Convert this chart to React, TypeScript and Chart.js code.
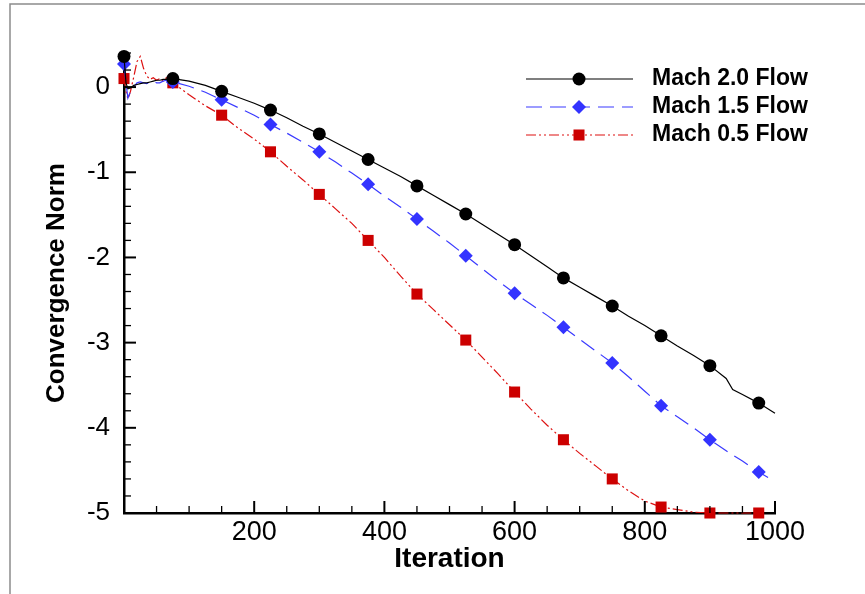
import { useEffect, useRef } from 'react';
import { Chart, registerables } from 'chart.js';

Chart.register(...registerables);

// ---------- data ----------
const iterations = [
  0, 3, 6, 10, 15, 20, 25, 30, 35, 40, 45, 50, 55, 60, 65, 70, 75,
  100, 125, 150, 175, 200, 225, 250, 275, 300, 325, 350, 375, 400, 425, 450,
  475, 500, 525, 550, 575, 600, 625, 650, 675, 700, 725, 750, 775, 800, 825,
  850, 875, 900, 925, 935, 950, 975, 1000,
];

const mach20 = [
  0.36, 0.05, -0.02, -0.01, 0.02, 0.03, 0.04, 0.05, 0.05, 0.06, 0.07, 0.08, 0.08, 0.09, 0.09, 0.1, 0.1,
  0.07, 0.02, -0.05, -0.12, -0.19, -0.27, -0.36, -0.46, -0.55, -0.65, -0.75, -0.85, -0.95, -1.05, -1.16,
  -1.27, -1.38, -1.49, -1.61, -1.73, -1.85, -1.98, -2.11, -2.24, -2.35, -2.46, -2.57, -2.69, -2.8, -2.92,
  -3.04, -3.15, -3.27, -3.42, -3.55, -3.61, -3.71, -3.83,
];

const mach15 = [
  0.27, 0.05, -0.13, -0.05, 0.0, 0.05, 0.06, 0.05, 0.04, 0.06, 0.07, 0.05, 0.05, 0.07, 0.08, 0.07, 0.06,
  0.01, -0.06, -0.15, -0.24, -0.33, -0.44, -0.54, -0.65, -0.76, -0.88, -1.01, -1.14, -1.28, -1.41, -1.55,
  -1.69, -1.83, -1.98, -2.13, -2.28, -2.42, -2.55, -2.68, -2.82, -2.96, -3.1, -3.24, -3.4, -3.57, -3.74,
  -3.87, -4.0, -4.14, -4.27, -4.32, -4.39, -4.52, -4.63,
];

const mach05 = [
  0.1, -0.05, -0.14, -0.05, 0.12, 0.3, 0.36, 0.22, 0.13, 0.09, 0.11, 0.08, 0.1, 0.07, 0.11, 0.06, 0.05,
  -0.09, -0.22, -0.33, -0.48, -0.61, -0.76, -0.93, -1.09, -1.26, -1.43, -1.6, -1.8, -2.0, -2.22, -2.43,
  -2.61, -2.79, -2.97, -3.17, -3.37, -3.58, -3.78, -3.97, -4.14, -4.3, -4.45, -4.6, -4.74, -4.86, -4.93,
  -4.96, -4.99, -5.0, -5.0, -5.0, -5.0, -5.0, null,
];

const markerIterations = [0, 75, 150, 225, 300, 375, 450, 525, 600, 675, 750, 825, 900, 975];

const seriesLabels = ['Mach 2.0 Flow', 'Mach 1.5 Flow', 'Mach 0.5 Flow'];
const xTickLabels = [200, 400, 600, 800, 1000];
const yTickLabels = [0, -1, -2, -3, -4, -5];

// ---------- helpers ----------
const FONT = '"Liberation Sans", Arial, Helvetica, sans-serif';

function near(a: number, b: number) {
  return Math.abs(a - b) < 1e-6;
}

function drawMarker(ctx: CanvasRenderingContext2D, style: string, x: number, y: number, r: number, color: string) {
  ctx.save();
  ctx.fillStyle = color;
  ctx.beginPath();
  if (style === 'circle') {
    ctx.arc(x, y, r, 0, Math.PI * 2);
  } else if (style === 'rectRot') {
    ctx.moveTo(x, y - r);
    ctx.lineTo(x + r, y);
    ctx.lineTo(x, y + r);
    ctx.lineTo(x - r, y);
    ctx.closePath();
  } else {
    const h = r * Math.SQRT1_2;
    ctx.rect(x - h, y - h, 2 * h, 2 * h);
  }
  ctx.fill();
  ctx.restore();
}

const framePlugin = {
  id: 'frame',
  beforeDraw(chart: any) {
    const ctx = chart.ctx as CanvasRenderingContext2D;
    ctx.save();
    ctx.strokeStyle = '#8c8c8c';
    ctx.lineWidth = 1.5;
    ctx.beginPath();
    ctx.moveTo(10, chart.height);
    ctx.lineTo(10, 4);
    ctx.lineTo(chart.width, 4);
    ctx.stroke();
    ctx.restore();
  },
};

const tickPlugin = {
  id: 'innerTicks',
  afterDraw(chart: any) {
    const ctx = chart.ctx as CanvasRenderingContext2D;
    const { left, bottom } = chart.chartArea;
    const xs = chart.scales.x;
    const ys = chart.scales.y;
    ctx.save();
    ctx.strokeStyle = '#000';
    xs.ticks.forEach((t: any) => {
      const px = xs.getPixelForValue(t.value);
      const major = near(t.value / 200, Math.round(t.value / 200));
      ctx.lineWidth = major ? 2 : 1.3;
      ctx.beginPath();
      ctx.moveTo(px, bottom);
      ctx.lineTo(px, bottom - (major ? 12 : 7));
      ctx.stroke();
    });
    ys.ticks.forEach((t: any) => {
      const py = ys.getPixelForValue(t.value);
      const major = near(t.value, Math.round(t.value));
      ctx.lineWidth = major ? 2 : 1.3;
      ctx.beginPath();
      ctx.moveTo(left, py);
      ctx.lineTo(left + (major ? 12 : 7), py);
      ctx.stroke();
    });
    ctx.restore();
  },
};

const legendPlugin = {
  id: 'lineLegend',
  afterDraw(chart: any) {
    const ctx = chart.ctx as CanvasRenderingContext2D;
    const rows = [79, 107, 135];
    chart.data.datasets.forEach((ds: any, i: number) => {
      const y = rows[i];
      ctx.save();
      ctx.strokeStyle = ds.borderColor;
      ctx.lineWidth = ds.borderWidth;
      ctx.setLineDash(ds.borderDash || []);
      ctx.beginPath();
      ctx.moveTo(526, y);
      ctx.lineTo(633, y);
      ctx.stroke();
      ctx.setLineDash([]);
      drawMarker(ctx, ds.pointStyle, 579, y, ds.markerSize, ds.pointBackgroundColor);
      ctx.fillStyle = '#000';
      ctx.font = `bold 23px ${FONT}`;
      ctx.textBaseline = 'middle';
      ctx.textAlign = 'left';
      ctx.fillText(ds.label, 652, y);
      ctx.restore();
    });
  },
};

function makeSeries(values: (number | null)[]) {
  return iterations.map((x, i) => ({ x, y: values[i] }));
}

function markerRadius(size: number) {
  return (c: any) => {
    const p = c.raw;
    if (!p || p.y === null) return 0;
    return markerIterations.includes(p.x) ? size : 0;
  };
}

export default function App() {
  const ref = useRef<HTMLCanvasElement | null>(null);

  useEffect(() => {
    if (!ref.current) return;
    const specs = [
      { label: seriesLabels[0], values: mach20, color: '#000000', marker: '#000000', style: 'circle', size: 6.5, dash: [] as number[] },
      { label: seriesLabels[1], values: mach15, color: '#3a3aff', marker: '#3333ff', style: 'rectRot', size: 7, dash: [16, 8] },
      { label: seriesLabels[2], values: mach05, color: '#dd1111', marker: '#cc0000', style: 'rect', size: 7.8, dash: [10, 3, 2, 3, 2, 3] },
    ];
    const chart = new Chart(ref.current, {
      type: 'line',
      data: {
        datasets: specs.map((s) => ({
          label: s.label,
          data: makeSeries(s.values),
          borderColor: s.color,
          borderWidth: 1.2,
          borderDash: s.dash,
          tension: 0,
          fill: false,
          spanGaps: false,
          clip: false,
          pointStyle: s.style,
          pointRadius: markerRadius(s.size),
          pointHoverRadius: 0,
          pointBackgroundColor: s.marker,
          pointBorderColor: s.marker,
          pointBorderWidth: 0,
          markerSize: s.size,
        })) as any,
      },
      options: {
        responsive: false,
        animation: false,
        events: [],
        layout: { padding: { left: 0, top: 53, right: 90, bottom: 0 } },
        plugins: {
          legend: { display: false },
          tooltip: { enabled: false },
        },
        scales: {
          x: {
            type: 'linear',
            min: 0,
            max: 1000,
            ticks: {
              stepSize: 50,
              autoSkip: false,
              maxRotation: 0,
              minRotation: 0,
              padding: 3,
              color: '#000',
              font: { family: FONT, size: 27 },
              callback: (v: any) => (xTickLabels.some((t) => near(t, Number(v))) ? String(Math.round(Number(v))) : ''),
            },
            grid: { display: false, drawTicks: false },
            border: { display: true, color: '#000', width: 2.5 },
            title: {
              display: true,
              text: 'Iteration',
              color: '#000',
              font: { family: FONT, size: 28, weight: 'bold' },
              padding: { top: 0, bottom: 18 },
            },
            afterFit: (s: any) => {
              s.height = 81;
            },
          },
          y: {
            type: 'linear',
            min: -5,
            max: 0.4,
            ticks: {
              stepSize: 0.2,
              autoSkip: false,
              padding: 14,
              color: '#000',
              font: { family: FONT, size: 26 },
              callback: (v: any) => {
                const n = Number(v);
                const hit = yTickLabels.find((t) => near(t, n));
                return hit === undefined ? '' : String(hit === 0 ? 0 : hit);
              },
            },
            grid: { display: false, drawTicks: false },
            border: { display: true, color: '#000', width: 2.5 },
            title: {
              display: true,
              text: 'Convergence Norm',
              color: '#000',
              font: { family: FONT, size: 26, weight: 'bold' },
              padding: { top: 41, bottom: 0 },
            },
            afterFit: (s: any) => {
              s.width = 124;
            },
          },
        },
      } as any,
      plugins: [framePlugin, tickPlugin, legendPlugin],
    });
    return () => chart.destroy();
  }, []);

  return (
    <div style={{ position: 'absolute', left: 0, top: 0, width: 865, height: 594, background: '#fff' }}>
      <canvas ref={ref} width={865} height={594} style={{ display: 'block' }} />
    </div>
  );
}
